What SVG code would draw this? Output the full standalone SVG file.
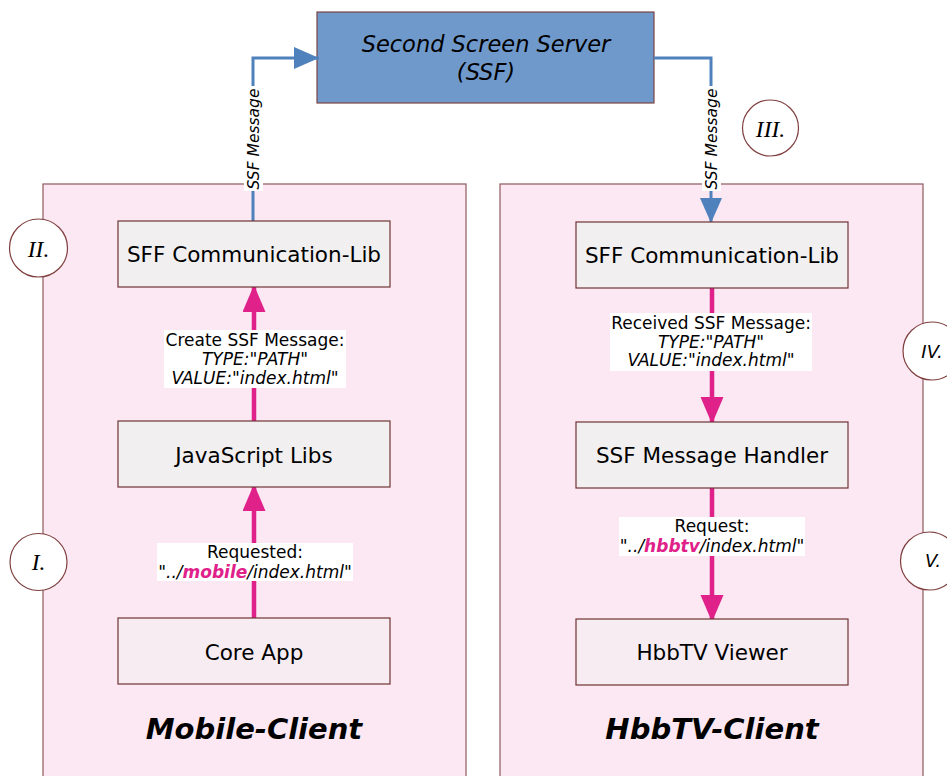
<svg xmlns="http://www.w3.org/2000/svg" width="947" height="776" viewBox="0 0 947 776">
  <defs>
    <style>
      .container { fill: #fbe8f2; stroke: #8e5a5e; stroke-width: 1.2; }
      .box { fill: #f2eff0; stroke: #6e3434; stroke-width: 1.2; }
      .box-end { fill: #f7ecf1; stroke: #6e3434; stroke-width: 1.2; }
      .server { fill: #7099cb; stroke: #7a4444; stroke-width: 1.2; }
      .marker-circle { fill: #ffffff; stroke: #7f3f3f; stroke-width: 1.2; }
      .sans { font-family: "DejaVu Sans", Verdana, sans-serif; fill: #000; }
      .box-label { font-size: 21.5px; text-anchor: middle; }
      .edge-label { font-size: 17px; text-anchor: middle; }
      .title { font-size: 29px; font-weight: bold; font-style: italic; text-anchor: middle; }
      .roman { font-family: "Liberation Serif", "Times New Roman", serif; font-style: italic; font-size: 23.5px; text-anchor: middle; fill: #000; }
      .roman-sans { font-family: "DejaVu Sans", Verdana, sans-serif; font-style: italic; font-size: 18px; text-anchor: middle; fill: #000; }
      .blue-line { fill: none; stroke: #4f81bd; stroke-width: 3; }
      .pink-line { fill: none; stroke: #e0218a; stroke-width: 4.5; }
      .label-bg { fill: #ffffff; }
      .hl { font-weight: bold; fill: #e0218a; }
      .it { font-style: italic; }
    </style>
    <marker id="arrow-blue" markerUnits="userSpaceOnUse" markerWidth="26" markerHeight="23" refX="25" refY="11" orient="auto">
      <path d="M0,0 L25,11 L0,22 Z" fill="#4f81bd"/>
    </marker>
    <marker id="arrow-pink" markerUnits="userSpaceOnUse" markerWidth="28" markerHeight="24" refX="27" refY="11.5" orient="auto">
      <path d="M0,0 L27,11.5 L0,23 Z" fill="#e0218a"/>
    </marker>
  </defs>

  <rect width="947" height="776" fill="#ffffff"/>

  <!-- client containers -->
  <g id="mobile-client">
    <rect class="container" x="43" y="184" width="423" height="610"/>
    <text class="sans title" x="254" y="739">Mobile-Client</text>
  </g>
  <g id="hbbtv-client">
    <rect class="container" x="500" y="184" width="423" height="610"/>
    <text class="sans title" x="712" y="739">HbbTV-Client</text>
  </g>

  <!-- server -->
  <g id="ssf-server">
    <rect class="server" x="317" y="12" width="337" height="91"/>
    <text class="sans box-label it" x="486" y="52" style="font-size:22.5px">Second Screen Server</text>
    <text class="sans box-label it" x="486" y="80" style="font-size:22.5px">(SSF)</text>
  </g>

  <!-- connectors -->
  <g id="connectors">
    <path class="blue-line" d="M253 221 V58 H319" marker-end="url(#arrow-blue)"/>
    <path class="blue-line" d="M654 58 H711 V223" marker-end="url(#arrow-blue)"/>
    <path class="pink-line" d="M254 421 V285" marker-end="url(#arrow-pink)"/>
    <path class="pink-line" d="M254 618 V484" marker-end="url(#arrow-pink)"/>
    <path class="pink-line" d="M712 288 V424" marker-end="url(#arrow-pink)"/>
    <path class="pink-line" d="M712 488 V622" marker-end="url(#arrow-pink)"/>

    <!-- vertical message labels -->
    <rect class="label-bg" x="244" y="86" width="19" height="105"/>
    <text class="sans it" transform="translate(253 139) rotate(-90)" x="0" y="5.5" text-anchor="middle" font-size="15.5">SSF Message</text>
    <rect class="label-bg" x="702" y="86" width="19" height="105"/>
    <text class="sans it" transform="translate(711 139) rotate(-90)" x="0" y="5.5" text-anchor="middle" font-size="15.5">SSF Message</text>

    <!-- mobile-side edge labels -->
    <rect class="label-bg" x="164" y="330" width="182" height="58"/>
    <text class="sans edge-label" x="255" y="346">Create SSF Message:</text>
    <text class="sans edge-label it" x="255" y="365">TYPE:"PATH"</text>
    <text class="sans edge-label it" x="255" y="384">VALUE:"index.html"</text>

    <rect class="label-bg" x="157" y="543" width="196" height="38"/>
    <text class="sans edge-label" x="255" y="558">Requested:</text>
    <text class="sans edge-label it" x="255" y="578">"../<tspan class="hl">mobile</tspan>/index.html"</text>

    <!-- hbbtv-side edge labels -->
    <rect class="label-bg" x="610" y="313" width="202" height="58"/>
    <text class="sans edge-label" x="711" y="329">Received SSF Message:</text>
    <text class="sans edge-label it" x="711" y="347.5">TYPE:"PATH"</text>
    <text class="sans edge-label it" x="711" y="366">VALUE:"index.html"</text>

    <rect class="label-bg" x="619" y="517" width="186" height="39"/>
    <text class="sans edge-label" x="712" y="532">Request:</text>
    <text class="sans edge-label it" x="712" y="552">"../<tspan class="hl">hbbtv</tspan>/index.html"</text>
  </g>

  <!-- mobile-client nodes -->
  <g id="mobile-comm-lib">
    <rect class="box" x="118" y="221" width="272" height="66"/>
    <text class="sans box-label" x="254" y="262">SFF Communication-Lib</text>
  </g>
  <g id="mobile-js-libs">
    <rect class="box" x="118" y="421" width="272" height="66"/>
    <text class="sans box-label" x="254" y="463">JavaScript Libs</text>
  </g>
  <g id="mobile-core-app">
    <rect class="box-end" x="118" y="618" width="272" height="66"/>
    <text class="sans box-label" x="254" y="660">Core App</text>
  </g>

  <!-- hbbtv-client nodes -->
  <g id="hbbtv-comm-lib">
    <rect class="box" x="576" y="222" width="272" height="66"/>
    <text class="sans box-label" x="712" y="263">SFF Communication-Lib</text>
  </g>
  <g id="hbbtv-msg-handler">
    <rect class="box" x="576" y="422" width="272" height="66"/>
    <text class="sans box-label" x="712" y="463">SSF Message Handler</text>
  </g>
  <g id="hbbtv-viewer">
    <rect class="box-end" x="576" y="619" width="272" height="66"/>
    <text class="sans box-label" x="712" y="660">HbbTV Viewer</text>
  </g>

  <!-- step markers -->
  <g id="step-1">
    <circle class="marker-circle" cx="38.5" cy="562" r="28.5"/>
    <text class="roman" x="38.5" y="570">I.</text>
  </g>
  <g id="step-2">
    <circle class="marker-circle" cx="38.5" cy="248" r="29"/>
    <text class="roman" x="38.5" y="257">II.</text>
  </g>
  <g id="step-3">
    <circle class="marker-circle" cx="770.5" cy="128" r="28"/>
    <text class="roman" x="770.5" y="137">III.</text>
  </g>
  <g id="step-4">
    <circle class="marker-circle" cx="932" cy="351" r="29"/>
    <text class="roman-sans" x="932" y="357.5">IV.</text>
  </g>
  <g id="step-5">
    <circle class="marker-circle" cx="929.5" cy="561" r="29"/>
    <text class="roman-sans" x="933" y="567">V.</text>
  </g>
</svg>
